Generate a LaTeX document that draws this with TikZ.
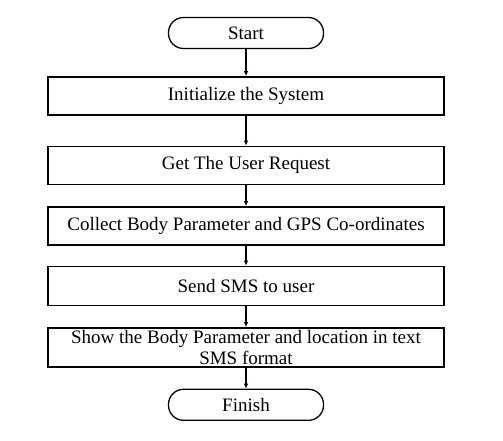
\documentclass[tikz,border=0pt]{standalone}
\usepackage{fontspec}
\setmainfont{Liberation Serif}
\usetikzlibrary{positioning}
\usetikzlibrary{arrows.meta}

\begin{document}
\begin{tikzpicture}[x=1pt, y=1pt,
    node distance=20pt,
    stepbox/.style={draw, line width=1.5pt, minimum width=396pt,
                    minimum height=38pt, inner sep=0pt, align=center,
                    font=\fontsize{19}{21}\selectfont},
    terminal/.style={draw, line width=1.3pt, rounded corners=15pt,
                     minimum width=155pt, minimum height=31pt, inner sep=0pt,
                     font=\fontsize{19}{21}\selectfont},
    >={Latex[length=5pt,width=4.5pt]}]
    \useasboundingbox (0,0) rectangle (503,-440);
    \node[terminal] (start) at (246,-33) {Start};
    \node[stepbox, below=27pt of start] (init) {Initialize the System};
    \node[stepbox, below=30pt of init] (request) {Get The User Request};
    \node[stepbox, below=21pt of request] (collect)
      {Collect Body Parameter and GPS Co-ordinates};
    \node[stepbox, minimum height=39pt, below=of collect] (sms)
      {Send SMS to user};
    \node[stepbox, minimum height=39pt, below=21pt of sms] (show)
      {Show the Body Parameter and location in text\\SMS format};
    \node[terminal, below=21pt of show] (finish) {Finish};
    \draw[->, line width=1.2pt] (start) -- (init);
    \draw[->, line width=1.2pt] (init) -- (request);
    \draw[->, line width=1.2pt] (request) -- (collect);
    \draw[->, line width=1.2pt] (collect) -- (sms);
    \draw[->, line width=1.2pt] (sms) -- (show);
    \draw[->, line width=1.2pt] (show) -- (finish);
\end{tikzpicture}
\end{document}
